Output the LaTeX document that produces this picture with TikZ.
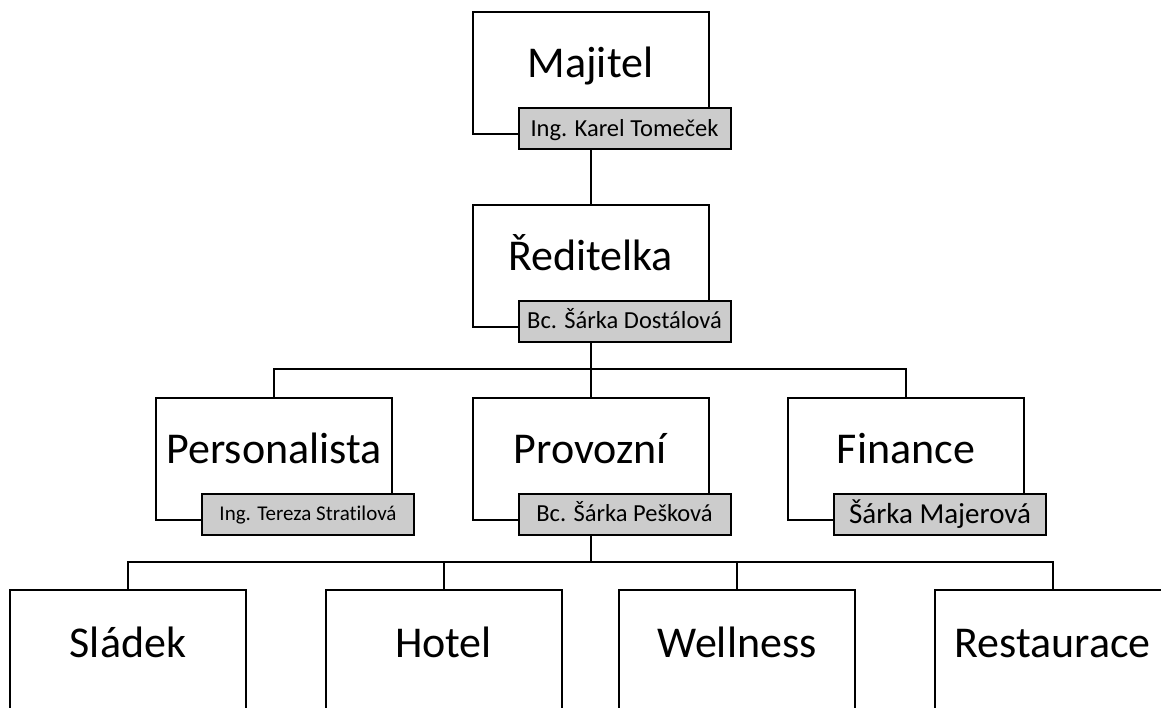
\documentclass[tikz,border=0pt]{standalone}
\usepackage{fontspec}
\setmainfont{Carlito}[Ligatures=NoCommon]
\usepackage{tikz}
\usetikzlibrary{calc}
\definecolor{seda}{RGB}{204,204,204}
\tikzset{
	ramec/.style={draw, line width=2pt, minimum width=236pt, minimum height=122pt, inner sep=0pt},
	jmeno/.style={draw, line width=2pt, fill=seda, minimum width=212pt, minimum height=41pt, inner sep=0pt},
	nadpis/.style={font=\fontsize{44}{53}\selectfont, anchor=base, inner sep=0pt},
	spoj/.style={line width=2pt}
}
% box with title and name tag: \pozice[font size](name)(centre){title}{person}
\def\pozice[#1](#2)(#3)#4#5{
	\node[ramec] (#2) at (#3) {};
	\node[nadpis] (#2t) at ($(#2.center)+(0,4.5)$) {#4};
	\node[jmeno, font=\fontsize{#1}{#1}\selectfont, text height={0.64*#1pt}, text depth=0pt] (#2j) at ($(#2.south)+(34,-6.5)$) {#5};
}
% box with title only
\def\oddeleni(#1)(#2)#3{
	\node[ramec] (#1) at (#2) {};
	\node[nadpis] (#1t) at ($(#1.center)+(0,6)$) {#3};
}

\begin{document}
\begin{tikzpicture}[x=1pt, y=-1pt]
			%%%%% START %%%%%
			\useasboundingbox (0,0) rectangle (1161,707);
			\clip (0,0) rectangle (1161,707);
			
			\pozice[24.5](maj)(590.5,73){Majitel}{Ing. Karel Tomeček}
			\pozice[24.5](red)(590.5,265.5){Ředitelka}{Bc. Šárka Dostálová}
			
			\pozice[21](per)(274,458.5){Personalista}{Ing. Tereza Stratilová}
			\pozice[24.5](prov)(590.5,458.5){Provozní}{Bc. Šárka Pešková}
			\pozice[29](fin)(906,458.5){Finance}{Šárka Majerová}
			
			\oddeleni(sla)(128,651){Sládek}
			\oddeleni(hot)(443.5,651){Hotel}
			\oddeleni(wel)(737,651){Wellness}
			\oddeleni(res)(1052.5,651){Restaurace}
			
			\coordinate (sber1) at (0,369);
			\coordinate (sber2) at (0,562);
			
			\draw[spoj] (majj.south -| maj.center) -- (red.north);
			\draw[spoj] (redj.south -| red.center) -- (red.center |- sber1);
			\draw[spoj] (per.north) |- (sber1 -| fin.north) -- (fin.north);
			\draw[spoj] (prov.north) -- (prov.north |- sber1);
			
			\draw[spoj] (provj.south -| prov.center) -- (prov.center |- sber2);
			\draw[spoj] (sla.north) |- (sber2 -| res.north) -- (res.north);
			\draw[spoj] (hot.north) -- (hot.north |- sber2);
			\draw[spoj] (wel.north) -- (wel.north |- sber2);
			
			%%%%% END %%%%%
\end{tikzpicture}
\end{document}
